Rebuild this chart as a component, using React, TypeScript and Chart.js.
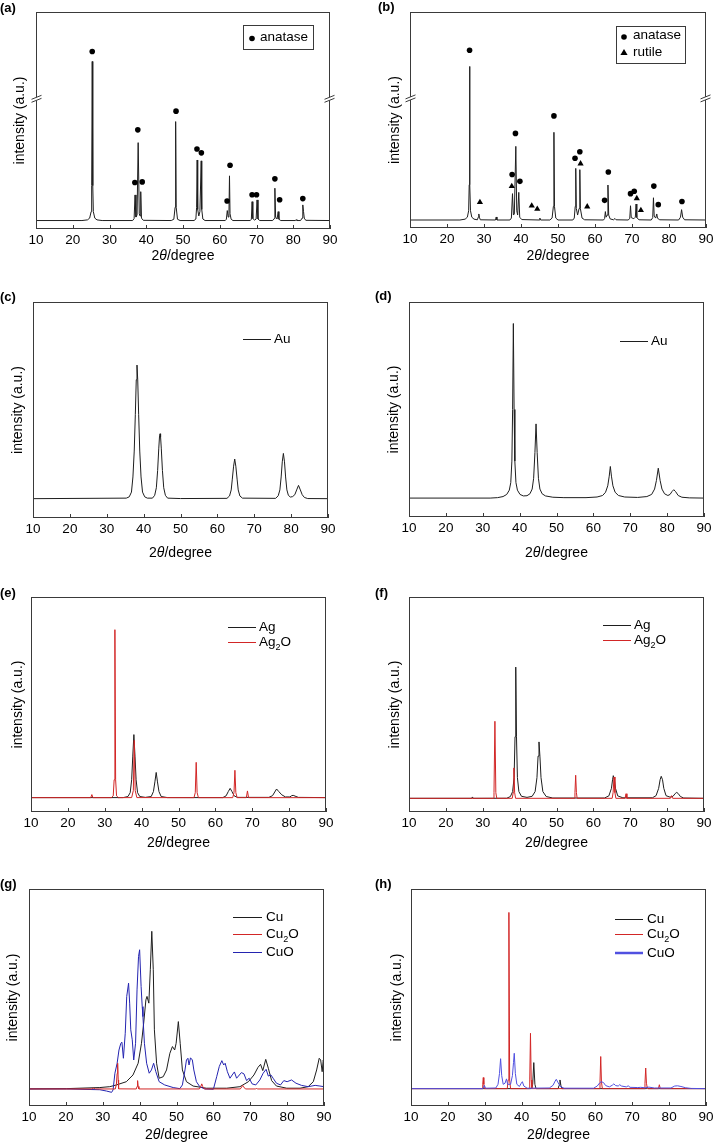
import React, { useEffect, useRef } from "react";
import { Chart, registerables } from "chart.js";
Chart.register(...registerables);

type Pt = [number, number];

// ---------- shared axis ----------
const xTickValues = [10, 20, 30, 40, 50, 60, 70, 80, 90];
const yRange = [0, 100];

// ---------- (a) anatase TiO2 ----------
const aPattern: Pt[] = [
  [10, 3.9], [22.5, 3.9], [24.0, 4.2], [24.6, 5.0], [25.0, 8], [25.15, 20], [25.3, 77.2], [25.45, 20], [25.6, 8], [26.0, 5.0], [26.6, 4.2], [28, 3.9],
  [36.3, 3.9], [36.7, 4.8], [36.95, 15.7], [37.2, 5.5], [37.5, 6.5], [37.8, 39.8], [38.1, 7], [38.3, 6], [38.5, 17.2], [38.7, 5], [39.2, 4.0],
  [46.8, 3.9], [47.5, 4.5], [47.85, 10], [48.0, 49.5], [48.15, 10], [48.5, 4.5], [49.2, 3.9],
  [53.0, 3.9], [53.5, 4.6], [53.7, 10], [53.85, 31.8], [54.0, 9], [54.3, 6], [54.6, 8], [54.95, 31.4], [55.1, 9], [55.4, 4.6], [56, 3.9],
  [61.5, 3.9], [61.8, 4.5], [62.05, 8.5], [62.3, 5.5], [62.5, 7], [62.65, 24.5], [62.8, 7], [63.1, 4.5], [63.6, 3.9],
  [68.3, 3.9], [68.6, 4.5], [68.8, 12.6], [69.0, 4.8], [69.5, 4.1], [69.9, 4.6], [70.15, 13.4], [70.4, 4.6], [70.9, 3.9],
  [74.4, 3.9], [74.8, 4.8], [75.0, 18.8], [75.2, 5.5], [75.6, 4.6], [75.9, 8.0], [76.1, 4.5], [76.6, 3.9],
  [80.6, 3.9], [80.8, 4.3], [81.0, 3.9],
  [82.0, 3.9], [82.4, 5.0], [82.6, 11.1], [82.8, 8], [83.0, 5], [83.4, 4.0], [90, 3.9],
];
const aAnataseMarks: Pt[] = [
  [25.3, 81.8], [36.9, 21.4], [37.7, 45.7], [38.9, 21.7], [48.1, 54.3], [53.8, 36.9], [55.0, 35.1],
  [62.0, 12.9], [62.8, 29.4], [68.8, 15.8], [70.0, 15.8], [75.0, 23.1], [76.3, 13.5], [82.6, 14.0],
];

// ---------- (b) anatase + rutile ----------
const bPattern: Pt[] = [
  [10, 3.7], [23.5, 3.7], [24.9, 4.1], [25.5, 5.0], [25.85, 8], [26.0, 20], [26.1, 74.8], [26.2, 20], [26.35, 8], [26.7, 5.0], [27.3, 4.1],
  [28.2, 3.8], [28.45, 5], [28.6, 6.5], [28.75, 5], [29.0, 3.8],
  [33.1, 3.7], [33.3, 5.1], [33.5, 3.7],
  [37.0, 3.7], [37.4, 4.6], [37.7, 15.9], [37.95, 6], [38.2, 6.5], [38.6, 37.8], [38.85, 8], [39.1, 6], [39.4, 16.5], [39.65, 5], [40.2, 3.9],
  [44.9, 3.7], [45.1, 4.6], [45.3, 3.7],
  [47.8, 3.7], [48.4, 4.6], [48.75, 10], [48.9, 44.3], [49.05, 10], [49.4, 4.6], [50, 3.7],
  [54.0, 3.7], [54.4, 4.6], [54.65, 10], [54.8, 27.6], [54.95, 9], [55.3, 6], [55.7, 9], [55.9, 27.0], [56.05, 9], [56.5, 4.6], [57.2, 3.8],
  [62.3, 3.7], [62.6, 4.4], [62.8, 7.6], [63.0, 5], [63.3, 6], [63.5, 19.9], [63.7, 6], [64.1, 4.2], [65.0, 3.8], [65.4, 4.4], [65.7, 3.8],
  [69.0, 3.7], [69.4, 4.5], [69.6, 10.3], [69.8, 4.8], [70.5, 4.3], [70.9, 5], [71.1, 11.1], [71.3, 4.8], [71.9, 3.8],
  [75.2, 3.7], [75.6, 4.8], [75.8, 14.0], [76.0, 5.5], [76.4, 4.6], [76.7, 6.5], [76.9, 4.5], [77.5, 3.8],
  [82.6, 3.7], [83.1, 5], [83.4, 8.5], [83.7, 5.0], [84.2, 3.8], [90, 3.7],
];
const bAnataseMarks: Pt[] = [
  [26.1, 82.3], [37.6, 24.8], [38.5, 43.8], [39.7, 21.6], [48.9, 51.9], [54.6, 32.3], [55.9, 35.3],
  [62.6, 12.8], [63.6, 25.9], [69.6, 15.9], [70.6, 17.0], [75.9, 19.4], [77.1, 10.8], [83.5, 12.3],
];
const bRutileMarks: Pt[] = [
  [28.9, 11.9], [37.5, 19.3], [42.9, 10.3], [44.4, 8.8], [56.1, 29.8], [57.9, 9.9], [71.3, 13.7], [72.4, 8.2],
];

// ---------- (c) Au ----------
const cAu: Pt[] = [
  [10, 8.95], [35.3, 9.2], [36.1, 9.8], [36.7, 12], [37.1, 19], [37.45, 31], [37.75, 48], [38.0, 64], [38.2, 70.8], [38.4, 64], [38.65, 48], [38.95, 31], [39.3, 19], [39.7, 12], [40.3, 9.8], [41, 9.2],
  [42.4, 9.2], [43.0, 10.5], [43.45, 14], [43.8, 22], [44.1, 32], [44.3, 37.5], [44.45, 39], [44.6, 37.5], [44.8, 32], [45.1, 22], [45.45, 14], [45.9, 10.5], [46.5, 9.2],
  [50, 9.0], [62.6, 9.1], [63.3, 10.2], [63.75, 13], [64.05, 18], [64.4, 24], [64.7, 27.3], [65.0, 24], [65.35, 18], [65.65, 13], [66.1, 10.2], [66.8, 9.2],
  [75.8, 9.1], [76.5, 10.3], [76.95, 13], [77.3, 19], [77.6, 26], [77.9, 29.9], [78.2, 26], [78.5, 19], [78.85, 13], [79.25, 10.5], [79.8, 9.7], [80.4, 9.9],
  [81.0, 10.8], [81.5, 13], [82.0, 15.1], [82.5, 13], [83.0, 10.8], [83.6, 9.5], [84.5, 9.0], [90, 8.95],
];

// ---------- (d) Au ----------
const dAu: Pt[] = [
  [10, 8.8], [32, 8.8], [34, 9.0], [35.5, 9.5], [36.5, 10.5], [37.2, 12.5], [37.6, 16], [37.9, 26], [38.1, 50], [38.3, 90], [38.5, 50], [38.7, 26], [39.0, 16], [39.4, 12.5], [40.1, 10.5], [41, 9.8],
  [42, 9.9], [42.8, 10.8], [43.4, 13], [43.8, 18], [44.15, 30], [44.45, 43.3], [44.75, 30], [45.1, 18], [45.5, 13], [46.1, 10.8], [47, 9.8], [49, 9.2], [52, 9.0],
  [58, 9.0], [61, 9.3], [62.5, 10], [63.3, 11.5], [63.9, 14.5], [64.3, 19], [64.6, 23.5], [64.9, 19], [65.3, 14.5], [65.9, 11.5], [66.8, 10], [68.5, 9.3],
  [72, 9.1], [74.5, 9.5], [75.8, 10.5], [76.6, 13], [77.1, 17], [77.6, 22.7], [78.1, 17], [78.6, 13], [79.3, 10.8], [80.2, 10],
  [80.8, 10.5], [81.3, 11.8], [81.8, 12.7], [82.3, 11.8], [83.0, 10.0], [84, 9.2], [86, 8.9], [90, 8.8],
];

// ---------- (e) Ag / Ag2O ----------
const eAg: Pt[] = [
  [10, 6.7], [35, 6.7], [36.3, 7.2], [36.9, 9], [37.3, 15], [37.6, 26], [37.9, 36], [38.2, 26], [38.5, 15], [38.9, 9], [39.5, 7.2], [41, 6.8],
  [42.6, 7.2], [43.2, 9.5], [43.6, 14], [43.95, 18.4], [44.3, 14], [44.7, 9.5], [45.3, 7.2], [47, 6.7],
  [62, 6.7], [62.9, 7.5], [63.5, 9.5], [64.0, 11], [64.5, 9.5], [65.1, 7.5], [66, 6.8],
  [74.5, 6.8], [75.5, 7.6], [76.1, 9.3], [76.6, 10.7], [77.2, 9.5], [78, 8], [79, 7], [80.2, 7], [80.7, 7.6], [81.1, 7.75], [81.6, 7.4], [82.5, 6.8], [90, 6.7],
];
const eAg2O: Pt[] = [
  [10, 6.67], [26.2, 6.67], [26.5, 8.1], [26.8, 6.67], [31.8, 6.67], [32.3, 7.5], [32.55, 15], [32.75, 84.8], [32.95, 15], [33.2, 7.5], [33.7, 6.67],
  [37.3, 6.7], [37.75, 10], [38.0, 33.3], [38.25, 10], [38.7, 6.7],
  [54.2, 6.67], [54.55, 9], [54.8, 23.1], [55.05, 9], [55.4, 6.67],
  [64.7, 6.67], [65.05, 9], [65.3, 19.4], [65.55, 9], [65.9, 6.67],
  [68.4, 6.67], [68.7, 9.8], [69.0, 6.67], [90, 6.67],
];

// ---------- (f) Ag / Ag2O ----------
const fAg: Pt[] = [
  [10, 6.36], [27.0, 6.36], [27.2, 7], [27.4, 6.36], [36.5, 6.4], [37.5, 7.2], [38.1, 9.5], [38.5, 16], [38.75, 35], [38.95, 67.4], [39.15, 35], [39.4, 16], [39.8, 9.5], [40.5, 7.3], [42, 6.8],
  [43.4, 7.3], [44.2, 9.5], [44.7, 16], [45.0, 26], [45.25, 32.6], [45.5, 26], [45.8, 16], [46.3, 9.5], [47.2, 7.2], [49, 6.5],
  [63, 6.5], [64.2, 7.5], [64.9, 11], [65.2, 15], [65.4, 16.9], [65.7, 15], [66.0, 11], [66.6, 7.5], [68, 6.6],
  [76, 6.6], [77.0, 7.6], [77.7, 11], [78.1, 15], [78.4, 16.6], [78.75, 15], [79.1, 11], [79.7, 7.6], [80.8, 6.9],
  [81.6, 7.3], [82.2, 8.6], [82.6, 9.1], [83.0, 8.6], [83.6, 7.2], [84.5, 6.5], [90, 6.36],
];
const fAg2O: Pt[] = [
  [10, 6.36], [32.8, 6.36], [33.05, 9], [33.3, 42.2], [33.55, 9], [33.8, 6.36],
  [38.0, 6.36], [38.25, 9], [38.45, 20.5], [38.65, 9], [38.9, 6.36],
  [54.8, 6.36], [55.0, 9], [55.2, 17.1], [55.4, 9], [55.6, 6.36],
  [65.1, 6.36], [65.35, 9], [65.6, 16.3], [65.85, 9], [66.1, 6.36],
  [68.6, 6.36], [68.85, 8.5], [69.1, 6.36], [80.9, 6.36], [81.2, 7.6], [81.5, 6.36], [90, 6.36],
];

// ---------- (g) Cu / Cu2O / CuO ----------
const gCu: Pt[] = [
  [10, 7.9], [20.1, 8.0], [29.2, 8.5], [31.9, 8.9], [33.7, 9.7], [36.4, 11.2], [38.2, 14.3], [39.6, 19.7], [40.5, 28.9], [41.1, 38.2], [41.7, 48.9],
  [42.0, 50.5], [42.5, 47.4], [42.9, 62.8], [43.3, 80.5], [43.7, 62.8], [44.0, 35.1], [44.6, 19.7], [45.3, 12.8], [46.4, 13.5], [47.3, 16.6],
  [48.2, 24.3], [48.9, 27.4], [49.5, 25.8], [49.9, 28.9], [50.5, 38.9], [51.0, 28.9], [51.6, 16.6], [52.7, 11.2], [54.5, 9.2], [58.1, 8.2],
  [63.6, 8.2], [67.2, 8.9], [69.5, 11.2], [71.0, 14.3], [72.1, 17.8], [72.8, 19.2], [73.4, 16.3], [74.2, 21.5], [74.9, 17.4], [75.8, 11.7],
  [77.1, 9.2], [79.9, 8.2], [83.5, 8.2], [85.7, 8.9], [87.1, 11.2], [88.0, 16.6], [88.7, 22.0], [89.1, 21.2], [89.5, 15.8], [89.8, 21.2], [90, 19.5],
];
const gCu2O: Pt[] = [
  [10, 7.85], [27, 7.85], [27.5, 8.2], [28, 7.85], [33.4, 7.85], [33.7, 10], [33.9, 15], [34.0, 19.7], [34.1, 19], [34.2, 12], [34.3, 7.9],
  [39.1, 7.85], [39.3, 9], [39.45, 11.7], [39.6, 9], [39.8, 7.85],
  [56.2, 7.85], [56.6, 9], [56.85, 10.2], [57.1, 9], [57.6, 7.85],
  [67.3, 7.85], [67.7, 8.8], [67.95, 9.5], [68.2, 8.8], [68.7, 7.85],
  [71.5, 7.85], [71.7, 8.2], [71.9, 7.85], [90, 7.85],
];
const gCuO: Pt[] = [
  [10, 7.85], [20.1, 7.85], [29.2, 7.5], [31.0, 6.9], [32.4, 6.3], [32.8, 7.4], [33.3, 15.1], [33.9, 19.7], [34.4, 25.8], [34.9, 28.9], [35.2, 29.4],
  [35.6, 22.0], [36.1, 33.5], [36.5, 50.5], [37.0, 56.6], [37.3, 47.4], [37.6, 35.1], [38.0, 30.5], [38.4, 21.2], [38.9, 28.9], [39.3, 53.5],
  [39.7, 68.9], [40.0, 72.0], [40.4, 55.1], [40.7, 45.8], [40.9, 41.2], [41.3, 28.9], [41.9, 19.7], [42.6, 15.1], [43.2, 16.6], [43.8, 19.7],
  [44.4, 15.8], [45.3, 11.2], [46.8, 9.7], [49.1, 8.5], [50.9, 8.0], [51.6, 9.7], [52.3, 16.6], [52.7, 21.2], [53.1, 22.0], [53.4, 18.9],
  [53.8, 22.2], [54.3, 21.2], [54.7, 16.6], [55.4, 11.2], [56.3, 8.9], [57.7, 7.85], [60.0, 7.7], [60.9, 13.5], [61.6, 18.2], [62.3, 20.9],
  [62.8, 18.9], [63.2, 19.7], [63.8, 15.8], [64.5, 12.8], [65.1, 14.3], [65.7, 15.7], [66.3, 12.8], [66.8, 13.8], [67.6, 15.4], [68.3, 14.8],
  [69.0, 11.7], [69.7, 12.8], [70.5, 10.2], [71.5, 9.7], [72.6, 12.0], [73.5, 15.1], [74.3, 16.9], [74.9, 13.8], [75.6, 14.3], [76.2, 12.8],
  [77.1, 10.5], [78.2, 9.7], [79.1, 11.7], [80.0, 11.2], [81.2, 12.0], [82.4, 10.5], [83.9, 9.5], [85.7, 8.9], [87.6, 9.5], [88.9, 9.2], [90, 8.9],
];

// ---------- (h) Cu / Cu2O / CuO ----------
const hCu: Pt[] = [
  [10, 8], [42.7, 8], [43.0, 10], [43.3, 20], [43.6, 10], [43.9, 8], [49.9, 8], [50.15, 9.5], [50.4, 12], [50.65, 9.5], [50.9, 8],
  [73.9, 8], [74.1, 8.8], [74.3, 8], [90, 8],
];
const hCu2O: Pt[] = [
  [10, 8], [29.3, 8], [29.45, 10], [29.6, 13.1], [29.75, 10], [29.9, 8], [36.1, 8], [36.35, 12], [36.55, 89.2], [36.75, 12], [37.0, 8],
  [42.0, 8], [42.2, 12], [42.4, 33.5], [42.6, 12], [42.8, 8], [61.0, 8], [61.25, 11], [61.45, 22.8], [61.65, 11], [61.9, 8],
  [73.2, 8], [73.45, 10.5], [73.65, 17.5], [73.85, 10.5], [74.1, 8], [77.1, 8], [77.35, 9.8], [77.6, 8], [90, 8],
];
const hCuO: Pt[] = [
  [10, 8], [29.5, 8], [29.9, 9.5], [30.2, 8.2], [33.0, 8.3], [33.6, 10], [34.0, 15], [34.3, 21.8], [34.6, 14], [35.0, 10], [35.5, 10.5],
  [35.9, 12.5], [36.2, 10], [37.0, 10], [37.5, 14], [37.8, 20], [38.0, 24.3], [38.3, 15], [38.7, 10], [39.4, 9], [39.9, 10.5], [40.2, 11.2],
  [40.6, 9.2], [41.5, 8.2], [47.5, 8.3], [48.5, 9.5], [49.1, 11.5], [49.4, 12.3], [49.8, 11.0], [50.5, 9], [51.5, 8.2], [59.5, 8.2],
  [60.5, 9.2], [61.2, 10.7], [61.6, 11.2], [62.2, 10.8], [62.8, 9.4], [63.8, 8.8], [64.6, 9.6], [65.0, 10.2], [65.5, 9.4], [66.2, 9.2],
  [66.6, 9.8], [67.1, 9.2], [68.4, 8.8], [68.9, 9.3], [69.4, 8.6], [71.5, 8.5], [72.3, 8.6], [73.5, 8.4], [74.5, 8.7], [76, 8.3],
  [80.5, 8.3], [81.5, 9.2], [82.3, 9.3], [83.2, 9.0], [84.5, 8.4], [86, 8.1], [90, 8],
];

// ---------- styling ----------
const FONT = "'Liberation Sans', Arial, Helvetica, sans-serif";
const FRAME = "#3a3a3a";
const BLACK = "#1e1e1e";
const RED = "#d22626";
const BLUE = "#2424b0";
const BLUE_H = "#5050e0";
const PAD_L = 44, PAD_T = 4, PAD_R = 12, PAD_B = 48;

type Series = { data: Pt[]; color: string; width?: number };
type LegendEntry = { kind: "line" | "circle" | "triangle"; label: string; color: string; lineW?: number; x0: number; x1: number; y: number; tx: number; ty?: number };
type PanelCfg = {
  label: string;
  labelPos: [number, number];
  rect: [number, number, number, number];
  series: Series[]; // first drawn on top
  circles?: Pt[];
  triangles?: Pt[];
  breakAt?: number;
  legendBox?: [number, number, number, number];
  legend: LegendEntry[];
  yTitleOffset: number;
  xTitleY: number;
};

const panels: PanelCfg[] = [
  {
    label: "(a)", labelPos: [0, 1], rect: [36, 12, 330, 229], series: [{ data: aPattern, color: BLACK }],
    circles: aAnataseMarks, breakAt: 60, legendBox: [243, 25, 313, 49],
    legend: [{ kind: "circle", label: "anatase", color: "#000", x0: 252, x1: 252, y: 38.5, tx: 260, ty: 37 }],
    yTitleOffset: 16, xTitleY: 256,
  },
  {
    label: "(b)", labelPos: [378, 0], rect: [410, 12, 706, 228], series: [{ data: bPattern, color: BLACK }],
    circles: bAnataseMarks, triangles: bRutileMarks, breakAt: 60, legendBox: [616, 26, 685, 63],
    legend: [
      { kind: "circle", label: "anatase", color: "#000", x0: 624, x1: 624, y: 37, tx: 633, ty: 35.5 },
      { kind: "triangle", label: "rutile", color: "#000", x0: 624, x1: 624, y: 52.5, tx: 633, ty: 52 },
    ],
    yTitleOffset: 15, xTitleY: 256,
  },
  {
    label: "(c)", labelPos: [0, 289.5], rect: [33, 302, 328, 518], series: [{ data: cAu, color: BLACK }],
    legend: [{ kind: "line", label: "Au", color: BLACK, x0: 243, x1: 271, y: 339.5, tx: 274 }],
    yTitleOffset: 15, xTitleY: 553,
  },
  {
    label: "(d)", labelPos: [375, 289], rect: [409, 302, 704, 517], series: [{ data: dAu, color: BLACK }],
    legend: [{ kind: "line", label: "Au", color: BLACK, x0: 620, x1: 648, y: 341.5, tx: 651 }],
    yTitleOffset: 15, xTitleY: 553,
  },
  {
    label: "(e)", labelPos: [0, 585.5], rect: [31, 597, 326, 812],
    series: [{ data: eAg2O, color: RED }, { data: eAg, color: BLACK }],
    legend: [
      { kind: "line", label: "Ag", color: BLACK, x0: 228, x1: 256, y: 627.5, tx: 259 },
      { kind: "line", label: "Ag_2O", color: RED, x0: 228, x1: 256, y: 642.5, tx: 259 },
    ],
    yTitleOffset: 13, xTitleY: 843,
  },
  {
    label: "(f)", labelPos: [375, 585.5], rect: [409, 597, 704, 812],
    series: [{ data: fAg2O, color: RED }, { data: fAg, color: BLACK }],
    legend: [
      { kind: "line", label: "Ag", color: BLACK, x0: 603, x1: 631, y: 625.5, tx: 634 },
      { kind: "line", label: "Ag_2O", color: RED, x0: 603, x1: 631, y: 640.5, tx: 634 },
    ],
    yTitleOffset: 14, xTitleY: 843,
  },
  {
    label: "(g)", labelPos: [0, 877], rect: [29, 889, 324, 1106],
    series: [{ data: gCu2O, color: RED }, { data: gCuO, color: BLUE }, { data: gCu, color: BLACK }],
    legend: [
      { kind: "line", label: "Cu", color: BLACK, x0: 233, x1: 262, y: 917.5, tx: 266 },
      { kind: "line", label: "Cu_2O", color: RED, x0: 233, x1: 262, y: 934.5, tx: 266 },
      { kind: "line", label: "CuO", color: BLUE, x0: 233, x1: 262, y: 952.5, tx: 266 },
    ],
    yTitleOffset: 16, xTitleY: 1135,
  },
  {
    label: "(h)", labelPos: [375, 877], rect: [411, 889, 706, 1106],
    series: [{ data: hCuO, color: BLUE_H }, { data: hCu2O, color: RED }, { data: hCu, color: BLACK }],
    legend: [
      { kind: "line", label: "Cu", color: BLACK, x0: 615, x1: 643, y: 919.5, tx: 647 },
      { kind: "line", label: "Cu_2O", color: RED, x0: 615, x1: 643, y: 934.5, tx: 647 },
      { kind: "line", label: "CuO", color: BLUE_H, lineW: 2.5, x0: 615, x1: 643, y: 953, tx: 647 },
    ],
    yTitleOffset: 14, xTitleY: 1135,
  },
];

function drawRichLabel(ctx: CanvasRenderingContext2D, text: string, x: number, y: number) {
  const parts = text.split("_");
  ctx.textAlign = "left";
  ctx.textBaseline = "middle";
  ctx.fillStyle = "#000";
  let cx = x;
  ctx.font = `13.5px ${FONT}`;
  ctx.fillText(parts[0], cx, y);
  cx += ctx.measureText(parts[0]).width;
  if (parts.length > 1) {
    const sub = parts[1].slice(0, 1);
    const rest = parts[1].slice(1);
    ctx.font = `9px ${FONT}`;
    ctx.fillText(sub, cx, y + 5);
    cx += ctx.measureText(sub).width;
    ctx.font = `13.5px ${FONT}`;
    ctx.fillText(rest, cx, y);
  }
}

function makeOverlay(cfg: PanelCfg, ox: number, oy: number) {
  return {
    id: "overlay",
    afterDraw(chart: any) {
      const ctx: CanvasRenderingContext2D = chart.ctx;
      const ca = chart.chartArea;
      const xs = chart.scales.x;
      const ys = chart.scales.y;
      ctx.save();
      // frame
      ctx.strokeStyle = FRAME;
      ctx.lineWidth = 1;
      ctx.strokeRect(ca.left + 0.5, ca.top + 0.5, ca.right - ca.left - 1, ca.bottom - ca.top - 1);
      // inward tick marks
      ctx.beginPath();
      for (const v of xTickValues) {
        const px = Math.round(xs.getPixelForValue(v)) + 0.5;
        ctx.moveTo(px, ca.bottom);
        ctx.lineTo(px, ca.bottom - 4);
      }
      ctx.stroke();
      // axis break marks
      if (cfg.breakAt !== undefined) {
        const py = ys.getPixelForValue(cfg.breakAt);
        for (const ex of [ca.left + 0.5, ca.right - 0.5]) {
          ctx.fillStyle = "#fff";
          ctx.fillRect(ex - 2, py - 1.5, 4, 3);
          ctx.beginPath();
          ctx.moveTo(ex - 5, py + 0.5);
          ctx.lineTo(ex + 5, py - 3.5);
          ctx.moveTo(ex - 5, py + 3.5);
          ctx.lineTo(ex + 5, py - 0.5);
          ctx.stroke();
        }
      }
      // y title
      ctx.fillStyle = "#000";
      ctx.font = `14px ${FONT}`;
      ctx.save();
      ctx.translate(ca.left - cfg.yTitleOffset, (ca.top + ca.bottom) / 2);
      ctx.rotate(-Math.PI / 2);
      ctx.textAlign = "center";
      ctx.textBaseline = "middle";
      ctx.fillText("intensity (a.u.)", 0, 0);
      ctx.restore();
      // x title 2θ/degree
      const pieces: [string, string][] = [["2", `14px ${FONT}`], ["θ", `italic 14px ${FONT}`], ["/degree", `14px ${FONT}`]];
      let total = 0;
      for (const [t, f] of pieces) { ctx.font = f; total += ctx.measureText(t).width; }
      let tx = (ca.left + ca.right) / 2 - total / 2;
      const ty = cfg.xTitleY - oy;
      ctx.textAlign = "left";
      ctx.textBaseline = "middle";
      for (const [t, f] of pieces) { ctx.font = f; ctx.fillText(t, tx, ty); tx += ctx.measureText(t).width; }
      // legend
      if (cfg.legendBox) {
        const [x0, y0, x1, y1] = cfg.legendBox;
        ctx.strokeStyle = FRAME;
        ctx.lineWidth = 1;
        ctx.strokeRect(x0 - ox + 0.5, y0 - oy + 0.5, x1 - x0, y1 - y0);
      }
      for (const it of cfg.legend) {
        const y = it.y - oy;
        if (it.kind === "line") {
          ctx.strokeStyle = it.color;
          ctx.lineWidth = it.lineW ?? 1;
          ctx.beginPath();
          ctx.moveTo(it.x0 - ox, y);
          ctx.lineTo(it.x1 - ox, y);
          ctx.stroke();
        } else if (it.kind === "circle") {
          ctx.fillStyle = it.color;
          ctx.beginPath();
          ctx.arc(it.x0 - ox, y, 2.8, 0, Math.PI * 2);
          ctx.fill();
        } else {
          ctx.fillStyle = it.color;
          const cx = it.x0 - ox;
          ctx.beginPath();
          ctx.moveTo(cx, y - 3.6);
          ctx.lineTo(cx + 3.6, y + 2.6);
          ctx.lineTo(cx - 3.6, y + 2.6);
          ctx.closePath();
          ctx.fill();
        }
        drawRichLabel(ctx, it.label, it.tx - ox, (it.ty ?? it.y) - oy);
      }
      ctx.restore();
    },
  };
}

function Panel({ cfg }: { cfg: PanelCfg }) {
  const ref = useRef<HTMLCanvasElement>(null);
  const [l, t, r, b] = cfg.rect;
  const ox = l - PAD_L;
  const oy = t - PAD_T;
  const W = r - l + PAD_L + PAD_R;
  const H = b - t + PAD_T + PAD_B;

  useEffect(() => {
    if (!ref.current) return;
    const datasets: any[] = [];
    if (cfg.circles) {
      datasets.push({
        data: cfg.circles.map(([x, y]) => ({ x, y })),
        showLine: false, pointStyle: "circle", pointRadius: 2.8, pointBackgroundColor: "#000", pointBorderWidth: 0,
      });
    }
    if (cfg.triangles) {
      datasets.push({
        data: cfg.triangles.map(([x, y]) => ({ x, y })),
        showLine: false, pointStyle: "triangle", pointRadius: 3.6, pointBackgroundColor: "#000", pointBorderWidth: 0,
      });
    }
    for (const s of cfg.series) {
      datasets.push({
        data: s.data.map(([x, y]) => ({ x, y })),
        showLine: true, borderColor: s.color, borderWidth: s.width ?? 1, pointRadius: 0, tension: 0, fill: false,
      });
    }
    const chart = new Chart(ref.current, {
      type: "scatter",
      data: { datasets },
      options: {
        animation: false,
        responsive: false,
        devicePixelRatio: 1,
        events: [],
        layout: { padding: { left: PAD_L, top: PAD_T, right: PAD_R, bottom: 0 }, autoPadding: false },
        plugins: { legend: { display: false }, tooltip: { enabled: false }, title: { display: false } },
        scales: {
          x: {
            type: "linear",
            min: xTickValues[0],
            max: xTickValues[xTickValues.length - 1],
            afterFit: (s: any) => { s.height = PAD_B; },
            ticks: { stepSize: 10, autoSkip: false, maxRotation: 0, padding: 3, color: "#000", font: { family: FONT, size: 13.5 } },
            grid: { display: false, drawTicks: false },
            border: { display: false },
          },
          y: { display: false, min: yRange[0], max: yRange[1] },
        },
      } as any,
      plugins: [makeOverlay(cfg, ox, oy) as any],
    });
    return () => chart.destroy();
  }, []);

  return (
    <>
      <canvas ref={ref} width={W} height={H} style={{ position: "absolute", left: ox, top: oy, width: W, height: H }} />
      <div style={{ position: "absolute", left: cfg.labelPos[0], top: cfg.labelPos[1], font: `bold 13px ${FONT}`, lineHeight: "13px", color: "#000", whiteSpace: "nowrap" }}>
        {cfg.label}
      </div>
    </>
  );
}

export default function App() {
  return (
    <div style={{ position: "absolute", left: 0, top: 0, width: 714, height: 1144, overflow: "hidden", background: "#fff" }}>
      {panels.map((p) => (
        <Panel key={p.label} cfg={p} />
      ))}
    </div>
  );
}
